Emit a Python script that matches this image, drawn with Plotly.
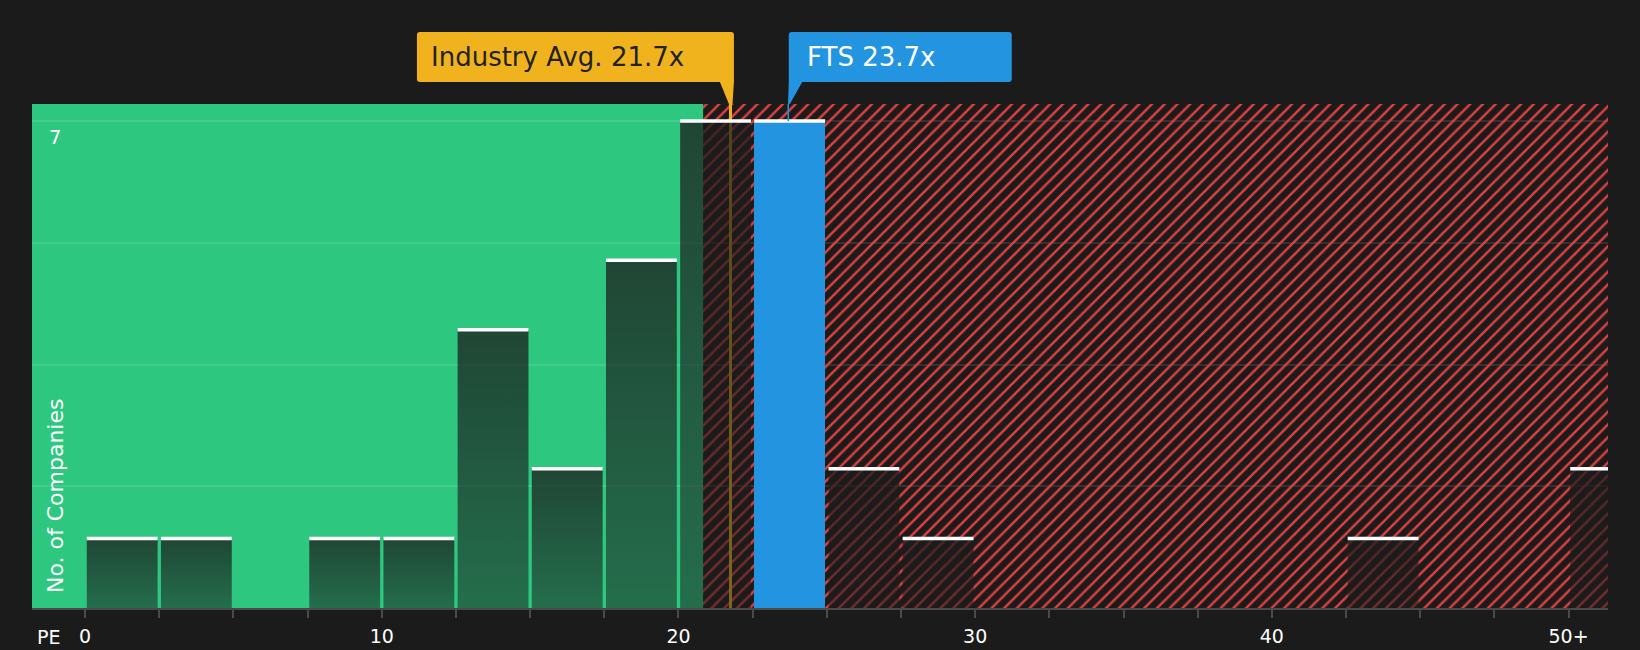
import plotly.graph_objects as go

# PE histogram, bins of 2.5
BIN_START = [0, 2.5, 5, 7.5, 10, 12.5, 15, 17.5, 20, 22.5, 25, 27.5, 30, 32.5, 35, 37.5, 40, 42.5, 45, 47.5, 50]
COUNTS = [1, 1, 0, 1, 1, 4, 2, 5, 7, 7, 2, 1, 0, 0, 0, 0, 0, 1, 0, 0, 2]
BIN_W = 2.5

TICK_VALS = [0, 10, 20, 30, 40, 50]
TICK_TEXT = ["0", "10", "20", "30", "40", "50+"]
Y_TICKS = [1.75, 3.5, 5.25, 7]

COMPANY = "FTS"
COMPANY_PE = 23.7
INDUSTRY_AVG = 21.7
GOOD_MAX = 20.83

X_RANGE = [-1.79, 51.33]
Y_RANGE = [0, 7.245]

BG = "#1b1b1b"
GREEN = "#2ec780"
RED = "#e03e3e"
YELLOW = "#f0b31e"
BLUE = "#2394e0"
FONT = "DejaVu Sans"

gap = BIN_W * 0.045 / 2
fts_bin = [i for i, b in enumerate(BIN_START) if b <= COMPANY_PE < b + BIN_W][0]

fig = go.Figure()

# hatched "expensive" zone
fig.add_trace(go.Bar(
    x=[(GOOD_MAX + X_RANGE[1] + 1) / 2], y=[Y_RANGE[1]], width=[X_RANGE[1] + 1 - GOOD_MAX],
    marker=dict(color="rgba(0,0,0,0)", line_width=0,
                pattern=dict(shape="/", fgcolor=RED, fgopacity=1, size=9, solidity=0.28, fillmode="overlay")),
    hoverinfo="skip", showlegend=False))

# industry average line (sits under the bars)
fig.add_trace(go.Bar(
    x=[INDUSTRY_AVG], y=[Y_RANGE[1]], width=[0.12], offset=0,
    marker=dict(color=YELLOW, line_width=0), hoverinfo="skip", showlegend=False))

# company bin
fig.add_trace(go.Bar(
    x=[BIN_START[fts_bin] + BIN_W / 2], y=[COUNTS[fts_bin]], width=[BIN_W - 2 * gap],
    marker=dict(color=BLUE, line_width=0), showlegend=False))

# other bins: dark see-through bars with a vertical gradient
for i, (b, n) in enumerate(zip(BIN_START, COUNTS)):
    if n == 0 or i == fts_bin:
        continue
    x0, x1 = b + gap, b + BIN_W - gap
    fig.add_trace(go.Scatter(
        x=[x0, x1, x1, x0, x0], y=[0, 0, n, n, 0], mode="lines", line_width=0, fill="toself",
        fillgradient=dict(type="vertical",
                          colorscale=[[0, "rgba(27,27,27,0.52)"], [1, "rgba(27,27,27,0.75)"]]),
        hoverinfo="skip", showlegend=False))

# white caps on top of bars
cap_x, cap_y = [], []
for b, n in zip(BIN_START, COUNTS):
    if n > 0:
        cap_x += [b + gap, b + BIN_W - gap, None]
        cap_y += [n, n, None]
fig.add_trace(go.Scatter(x=cap_x, y=cap_y, mode="lines", line=dict(color="white", width=3.5),
                         hoverinfo="skip", showlegend=False))

shapes = [
    dict(type="rect", xref="x", yref="paper", x0=X_RANGE[0], x1=GOOD_MAX, y0=0, y1=1,
         fillcolor=GREEN, line_width=0, layer="below"),
    # industry callout
    dict(type="path", xref="x", yref="paper", xsizemode="pixel", ysizemode="pixel",
         xanchor=INDUSTRY_AVG, yanchor=1,
         path="M -309,72 L 2,72 Q 5,72 5,69 L 5,22 L 3.6,0 L 0,0 L -9,22 L -309,22 Q -312,22 -312,25 "
              "L -312,69 Q -312,72 -309,72 Z",
         fillcolor=YELLOW, line_width=0, layer="above"),
    # company callout
    dict(type="path", xref="x", yref="paper", xsizemode="pixel", ysizemode="pixel",
         xanchor=COMPANY_PE, yanchor=1,
         path="M 3.5,72 L 220.5,72 Q 223.5,72 223.5,69 L 223.5,25 Q 223.5,22 220.5,22 L 14,22 L 1.6,0 "
              "L -0.2,0 L 0.5,22 L 0.5,69 Q 0.5,72 3.5,72 Z",
         fillcolor=BLUE, line_width=0, layer="above"),
    dict(type="line", xref="x", yref="y", x0=COMPANY_PE, x1=COMPANY_PE, y0=COUNTS[fts_bin], y1=Y_RANGE[1],
         line=dict(color=BLUE, width=1.5), layer="above"),
]

annotations = [
    dict(text=f"Industry Avg. {INDUSTRY_AVG}x", xref="x", x=INDUSTRY_AVG, xanchor="left", xshift=-300,
         yref="paper", y=1, yanchor="middle", yshift=47, showarrow=False,
         font=dict(family=FONT, size=26, color="#222222")),
    dict(text=f"{COMPANY} {COMPANY_PE}x", xref="x", x=COMPANY_PE, xanchor="left", xshift=16.5,
         yref="paper", y=1, yanchor="middle", yshift=47, showarrow=False,
         font=dict(family=FONT, size=26, color="white")),
    dict(text=str(Y_TICKS[-1]), xref="paper", x=0, xanchor="center", xshift=23,
         yref="y", y=Y_TICKS[-1], yanchor="middle", yshift=-16, showarrow=False,
         font=dict(family=FONT, size=19.5, color="white")),
    dict(text="No. of Companies", textangle=-90, xref="paper", x=0, xanchor="center", xshift=23,
         yref="paper", y=0, yanchor="bottom", yshift=13, showarrow=False,
         font=dict(family=FONT, size=22, color="white")),
    dict(text="PE", xref="paper", x=0, xanchor="center", xshift=16,
         yref="paper", y=0, yanchor="middle", yshift=-29, showarrow=False,
         font=dict(family=FONT, size=19, color="white")),
]

fig.update_layout(
    width=1640, height=650,
    margin=dict(l=32, r=32, t=104, b=42),
    paper_bgcolor=BG, plot_bgcolor=BG,
    barmode="overlay", bargap=0,
    font=dict(family=FONT, size=19, color="white"),
    shapes=shapes, annotations=annotations,
    xaxis=dict(range=X_RANGE, tickvals=TICK_VALS, ticktext=TICK_TEXT, showgrid=False, zeroline=False,
               automargin=False, showline=True, linecolor="#4a4a4a", linewidth=2,
               ticks="outside", ticklen=8, tickwidth=2, tickcolor="#4a4a4a", ticklabelstandoff=2,
               minor=dict(tick0=0, dtick=BIN_W, ticks="outside", ticklen=8, tickwidth=2,
                          tickcolor="#4a4a4a", showgrid=False),
               tickfont=dict(size=19, color="white")),
    yaxis=dict(range=Y_RANGE, tickvals=Y_TICKS, showticklabels=False, showgrid=True, automargin=False,
               gridcolor="rgba(255,255,255,0.1)", gridwidth=1.5, zeroline=False, showline=False, ticks=""),
)

fig.write_html("out.html", config={"displayModeBar": False},
               post_script="document.body.style.margin = '0';")
